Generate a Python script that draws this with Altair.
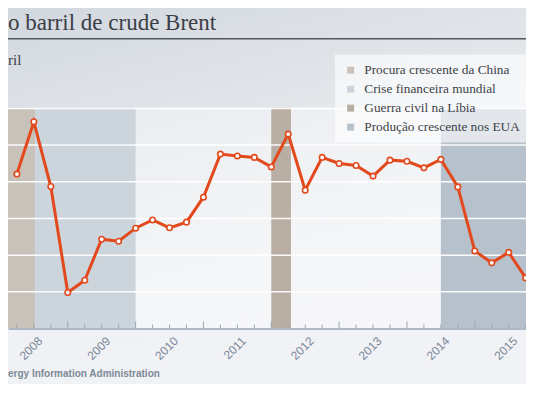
import altair as alt
import pandas as pd

# ---------------- data ----------------
# texts as they are visible in the (cropped) reference
title_text = "o barril de crude Brent"
unit_text = "ril"
source_text = "ergy Information Administration"

first_year = 2008
# Brent price (US$ per barrel), one reading per quarter, from 2008 Q2 onwards
prices = [104.2, 132.7, 97.4, 39.6, 46.3, 68.7, 67.6, 74.7, 79.2, 74.9,
          78.0, 91.6, 115.1, 114.1, 113.3, 108.1, 126.0, 95.4, 113.3, 110.0,
          108.9, 103.1, 111.8, 111.2, 107.6, 112.2, 97.2, 62.3, 55.8, 61.5,
          47.6, 37.0]
years = [2008, 2009, 2010, 2011, 2012, 2013, 2014, 2015]
grid_values = [40, 60, 80, 100, 120, 140]

band_names = ["Procura crescente da China", "Crise financeira mundial",
              "Guerra civil na Líbia", "Produção crescente nos EUA"]
band_start = [2006.0, 2008.52, 2012.0, 2014.5]
band_end = [2008.52, 2010.0, 2012.29, 2017.0]
band_colors = ["#c9c2ba", "#ccd4dc", "#b8aea3", "#b6c1cb"]

# ---------------- tables ----------------
df_price = pd.DataFrame({
    "t": [first_year + 0.25 * (k + 1) for k in range(len(prices))],
    "price": prices,
})
n_ticks = len(prices) + 1
df_ticks = pd.DataFrame({
    "t": [first_year + 0.25 * k for k in range(n_ticks)],
    "major": [k % 4 == 0 for k in range(n_ticks)],
})
df_bands = pd.DataFrame({"name": band_names, "start": band_start, "end": band_end})
df_grid = pd.DataFrame({"v": grid_values})

W, H = 518, 221
LINE = "#e2491d"

xscale = alt.Scale(domain=[2008.119, 2015.755], nice=False, zero=False)
yscale = alt.Scale(domain=[20, 140.5], nice=False, zero=False)

label_vals = [y + 0.59 for y in years]
xaxis = alt.Axis(
    values=label_vals, labelExpr="'' + floor(datum.value)", title=None,
    ticks=False, grid=False, domain=True, domainColor="#aeb8c3", domainWidth=2,
    labelAngle=-45, labelAlign="right", labelBaseline="middle", labelPadding=10,
    labelFont="Liberation Sans", labelFontSize=12, labelColor="#7a889a",
    labelFlush=False, labelOverlap=False, zindex=1,
)

one = pd.DataFrame({"a": [0]})

bg = alt.Chart(one).mark_rect(
    color=alt.Gradient(
        gradient="linear",
        stops=[alt.GradientStop(color="#d1d7de", offset=0),
               alt.GradientStop(color="#e2e6ea", offset=0.4),
               alt.GradientStop(color="#eff1f4", offset=0.75),
               alt.GradientStop(color="#f1f2f5", offset=1)],
        x1=0, y1=0, x2=0.35, y2=1,
    )
).encode(x=alt.value(-10), x2=alt.value(W + 10), y=alt.value(-110), y2=alt.value(H + 60))

plotfill = alt.Chart(one).mark_rect(color="white", opacity=0.35).encode(
    x=alt.value(0), x2=alt.value(W), y=alt.value(0), y2=alt.value(H))

bands = alt.Chart(df_bands).mark_rect(clip=True).encode(
    x=alt.X("start:Q", scale=xscale, axis=xaxis),
    x2="end:Q",
    y=alt.value(0), y2=alt.value(H),
    color=alt.Color("name:N",
                    scale=alt.Scale(domain=band_names, range=band_colors),
                    sort=band_names,
                    legend=alt.Legend(
                        orient="none", legendX=327, legendY=-53, title=None,
                        symbolType="square", symbolSize=49, symbolStrokeWidth=0,
                        labelFont="Liberation Serif", labelFontSize=13.3,
                        labelColor="#3c4248", labelOffset=7, rowPadding=5,
                        padding=9, fillColor="rgba(255,255,255,0.62)",
                        labelLimit=400, direction="vertical")),
)

grid = alt.Chart(df_grid).mark_rule(color="white", strokeWidth=1.5, opacity=0.95).encode(
    y=alt.Y("v:Q", scale=yscale, axis=None))

ticks_minor = alt.Chart(df_ticks).transform_filter("!datum.major").mark_rule(
    color="#9aa6b3", strokeWidth=1, clip=True).encode(
    x=alt.X("t:Q", scale=xscale, axis=xaxis), y=alt.value(H), y2=alt.value(H - 4))
ticks_major = alt.Chart(df_ticks).transform_filter("datum.major").mark_rule(
    color="#9aa6b3", strokeWidth=1, clip=True).encode(
    x=alt.X("t:Q", scale=xscale, axis=xaxis), y=alt.value(H), y2=alt.value(H - 7))

line = alt.Chart(df_price).mark_line(color=LINE, strokeWidth=3, clip=True).encode(
    x=alt.X("t:Q", scale=xscale, axis=xaxis),
    y=alt.Y("price:Q", scale=yscale, axis=None))
pts = alt.Chart(df_price).mark_point(
    filled=True, fill="white", stroke=LINE, strokeWidth=1.6, size=30, opacity=1,
    clip=True).encode(
    x=alt.X("t:Q", scale=xscale, axis=xaxis),
    y=alt.Y("price:Q", scale=yscale, axis=None))

title = alt.Chart(pd.DataFrame({"s": [title_text]})).mark_text(
    align="left", baseline="alphabetic", font="Liberation Serif", fontSize=23,
    color="#3b4047").encode(text="s:N", x=alt.value(0), y=alt.value(-77.5))
title_rule = alt.Chart(one).mark_rule(color="#51575d", strokeWidth=1.5).encode(
    x=alt.value(-10), x2=alt.value(W + 10), y=alt.value(-68.8))
unit = alt.Chart(pd.DataFrame({"s": [unit_text]})).mark_text(
    align="left", baseline="alphabetic", font="Liberation Serif", fontSize=15,
    color="#3b4047").encode(text="s:N", x=alt.value(0), y=alt.value(-42.5))
source = alt.Chart(pd.DataFrame({"s": [source_text]})).mark_text(
    align="left", baseline="alphabetic", font="Liberation Sans", fontSize=10,
    fontWeight="bold", color="#7d8a99").encode(text="s:N", x=alt.value(0), y=alt.value(269))

chart = alt.layer(
    bg, plotfill, bands, grid, ticks_minor, ticks_major, line, pts,
    title, title_rule, unit, source,
).properties(
    width=W, height=H,
    autosize=alt.AutoSizeParams(type="none"),
    padding={"left": 0, "right": 0, "top": 99.5, "bottom": 55.5},
    background="#eef0f3",
).configure_view(stroke=None)

chart.save("out.html", embed_options={"renderer": "svg", "actions": False})
